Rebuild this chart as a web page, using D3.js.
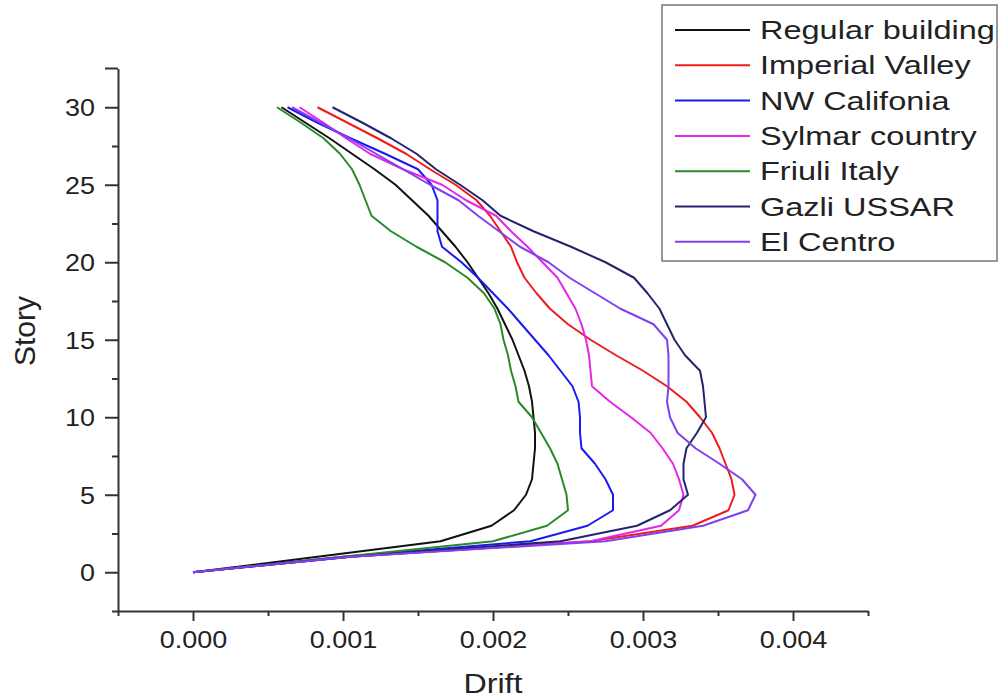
<!DOCTYPE html>
<html lang="en">
<head>
<meta charset="UTF-8">
<title>Story drift</title>
<script src="https://d3js.org/d3.v7.min.js"></script>
<style>
  body { margin: 0; background: #fff; }
  svg { display: block; font-family: "Liberation Sans", Arial, sans-serif; }
</style>
</head>
<body>
<svg id="chart" width="1000" height="699"></svg>
<script>
// story levels (y values)
const stories = [0,1,2,3,4,5,6,7,8,9,10,11,12,13,14,15,16,17,18,19,20,21,22,23,24,25,26,27,28,29,30];

// drift per story, story 0 .. 30
const regularBuilding = [0, 0.00083, 0.00165, 0.00199, 0.00214, 0.00222, 0.00226, 0.00227, 0.00228, 0.00228, 0.00227, 0.00226, 0.00224, 0.00221, 0.00217, 0.00213, 0.00208, 0.00203, 0.00197, 0.00190, 0.00183, 0.00175, 0.00166, 0.00157, 0.00146, 0.00135, 0.00121, 0.00106, 0.00091, 0.00075, 0.00059];
const imperialValley = [0, 0.00105, 0.00265, 0.00333, 0.00357, 0.00361, 0.00359, 0.00355, 0.00351, 0.00346, 0.00338, 0.00329, 0.00316, 0.00300, 0.00282, 0.00265, 0.00250, 0.00238, 0.00229, 0.00221, 0.00216, 0.00212, 0.00205, 0.00198, 0.00189, 0.00175, 0.00158, 0.00142, 0.00123, 0.00103, 0.00083];
const nwCalifonia = [0, 0.00100, 0.00225, 0.00263, 0.00280, 0.00280, 0.00275, 0.00268, 0.00259, 0.00258, 0.00258, 0.00257, 0.00253, 0.00245, 0.00237, 0.00228, 0.00219, 0.00210, 0.00200, 0.00190, 0.00179, 0.00166, 0.00163, 0.00163, 0.00163, 0.00159, 0.00150, 0.00128, 0.00105, 0.00083, 0.00063];
const sylmarCountry = [0, 0.00105, 0.00265, 0.00312, 0.00324, 0.00327, 0.00324, 0.00320, 0.00313, 0.00305, 0.00292, 0.00278, 0.00266, 0.00265, 0.00264, 0.00262, 0.00259, 0.00255, 0.00249, 0.00243, 0.00233, 0.00223, 0.00212, 0.00202, 0.00182, 0.00166, 0.00140, 0.00118, 0.00102, 0.00087, 0.00071];
const friuliItaly = [0, 0.00100, 0.00200, 0.00236, 0.00250, 0.00249, 0.00246, 0.00243, 0.00238, 0.00232, 0.00226, 0.00217, 0.00215, 0.00212, 0.00210, 0.00207, 0.00205, 0.00201, 0.00194, 0.00183, 0.00168, 0.00149, 0.00132, 0.00119, 0.00115, 0.00111, 0.00106, 0.00098, 0.00087, 0.00072, 0.00056];
const gazliUssar = [0, 0.00105, 0.00245, 0.00296, 0.00318, 0.00330, 0.00327, 0.00327, 0.00329, 0.00336, 0.00342, 0.00341, 0.00340, 0.00338, 0.00328, 0.00321, 0.00316, 0.00311, 0.00303, 0.00294, 0.00275, 0.00252, 0.00227, 0.00205, 0.00193, 0.00178, 0.00162, 0.00149, 0.00132, 0.00113, 0.00093];
const elCentro = [0, 0.00105, 0.00275, 0.00340, 0.00370, 0.00375, 0.00366, 0.00351, 0.00335, 0.00323, 0.00318, 0.00316, 0.00317, 0.00317, 0.00317, 0.00316, 0.00307, 0.00285, 0.00268, 0.00251, 0.00237, 0.00218, 0.00204, 0.00190, 0.00177, 0.00158, 0.00140, 0.00122, 0.00104, 0.00085, 0.00066];

const seriesNames = ["Regular building", "Imperial Valley", "NW Califonia", "Sylmar country", "Friuli Italy", "Gazli USSAR", "El Centro"];
const seriesValues = [regularBuilding, imperialValley, nwCalifonia, sylmarCountry, friuliItaly, gazliUssar, elCentro];
const seriesColors = ["#111111", "#f01c1c", "#1a1af0", "#e626e6", "#2a8a2a", "#24246e", "#8040f0"];

const xTicks = [0, 0.001, 0.002, 0.003, 0.004];
const xMinor = [-0.0005, 0.0005, 0.0015, 0.0025, 0.0035, 0.0045];
const yTicks = [0, 5, 10, 15, 20, 25, 30];
const yMinor = [-2.5, 2.5, 7.5, 12.5, 17.5, 22.5, 27.5];

const svg = d3.select("#chart");
const plotLeft = 118, plotRight = 868, plotTop = 68.5, plotBottom = 611;

const x = d3.scaleLinear().domain([-0.0005, 0.0045]).range([plotLeft, plotRight]);
const y = d3.scaleLinear().domain([-2.5, 32.5]).range([plotBottom, plotTop]);

const axisColor = "#333";
const textColor = "#222";

// minor ticks first
svg.append("g")
    .attr("transform", `translate(0,${plotBottom})`)
    .call(d3.axisBottom(x).tickValues(xMinor).tickSize(5).tickFormat(""))
    .call(g => g.select(".domain").remove());
svg.append("g")
    .attr("transform", `translate(${plotLeft},0)`)
    .call(d3.axisLeft(y).tickValues(yMinor).tickSize(6).tickFormat(""))
    .call(g => g.select(".domain").remove());

// major ticks
const xAxis = svg.append("g")
    .attr("transform", `translate(0,${plotBottom})`)
    .call(d3.axisBottom(x).tickValues(xTicks).tickSize(10).tickSizeOuter(0).tickFormat(d3.format(".3f")));
const yAxis = svg.append("g")
    .attr("transform", `translate(${plotLeft},0)`)
    .call(d3.axisLeft(y).tickValues(yTicks).tickSize(13).tickSizeOuter(0).tickFormat(d3.format("d")));

// long cap tick at top of y axis
svg.append("line")
    .attr("x1", plotLeft - 13).attr("x2", plotLeft)
    .attr("y1", y(32.5)).attr("y2", y(32.5));

svg.selectAll(".tick line, .domain, line")
    .attr("stroke", axisColor).attr("stroke-width", 2);

xAxis.selectAll(".tick text")
    .attr("y", 0).attr("dy", null)
    .attr("transform", "translate(0,37) scale(1.17,1)")
    .attr("font-size", 23).attr("fill", textColor)
    .attr("font-family", "Liberation Sans, Arial, sans-serif");
yAxis.selectAll(".tick text")
    .attr("x", 0).attr("dy", "0.36em")
    .attr("transform", "translate(-23,0) scale(1.17,1)")
    .attr("font-size", 23).attr("fill", textColor)
    .attr("font-family", "Liberation Sans, Arial, sans-serif");

// axis titles
svg.append("text")
    .attr("transform", `translate(${x(0.002)},693) scale(1.15,1)`)
    .attr("text-anchor", "middle")
    .attr("font-size", 28).attr("fill", textColor)
    .text("Drift");
svg.append("text")
    .attr("transform", "translate(35,331) rotate(-90)")
    .attr("text-anchor", "middle")
    .attr("font-size", 30).attr("fill", textColor)
    .text("Story");

// curves
const line = d3.line()
    .x(d => x(d[0]))
    .y(d => y(d[1]));

seriesValues.forEach((vals, i) => {
    svg.append("path")
        .datum(vals.map((v, j) => [v, stories[j]]))
        .attr("fill", "none")
        .attr("stroke", seriesColors[i])
        .attr("stroke-width", 2)
        .attr("stroke-linejoin", "round")
        .attr("d", line);
});

// legend
const legend = svg.append("g");
legend.append("rect")
    .attr("x", 662).attr("y", 5)
    .attr("width", 335).attr("height", 256)
    .attr("fill", "#fff")
    .attr("stroke", "#777").attr("stroke-width", 1.5);

seriesNames.forEach((name, i) => {
    const cy = 30 + i * 35.3;
    legend.append("line")
        .attr("x1", 675).attr("x2", 750)
        .attr("y1", cy).attr("y2", cy)
        .attr("stroke", seriesColors[i]).attr("stroke-width", 2);
    legend.append("text")
        .attr("transform", `translate(760,${cy}) scale(1.3,1)`)
        .attr("dy", "0.36em")
        .attr("font-size", 25).attr("fill", textColor)
        .text(name);
});
</script>
</body>
</html>
